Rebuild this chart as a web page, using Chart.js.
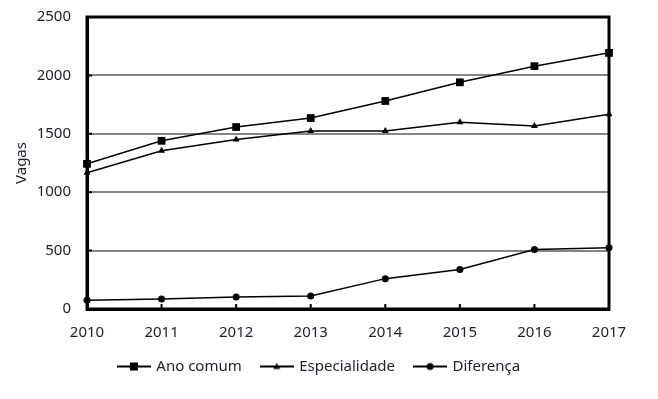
<!DOCTYPE html>
<html>
<head>
<meta charset="utf-8">
<script src="https://cdn.jsdelivr.net/npm/chart.js@4"></script>
<style>
  html, body { margin: 0; padding: 0; background: #fff; }
  #wrap { width: 658px; height: 399px; }
</style>
</head>
<body>
<div id="wrap"><canvas id="chart" width="658" height="399"></canvas></div>
<script>
const years = ['2010', '2011', '2012', '2013', '2014', '2015', '2016', '2017'];
const anoComum = [1243, 1440, 1558, 1635, 1781, 1941, 2079, 2193];
const especialidade = [1166, 1355, 1452, 1523, 1523, 1598, 1566, 1667];
const diferenca = [75, 86, 103, 112, 260, 338, 510, 524];
const yTicks = [0, 500, 1000, 1500, 2000, 2500];

const TEXT = '#1e1e2c';
const FONT = { family: "'Noto Sans', sans-serif", size: 15 };

// icone da legenda: linha com o marcador no meio
function legendIcon(style) {
    const c = document.createElement('canvas');
    c.width = 34; c.height = 10;
    const g = c.getContext('2d');
    g.strokeStyle = '#000'; g.fillStyle = '#000'; g.lineWidth = 2;
    g.beginPath(); g.moveTo(0, 5); g.lineTo(34, 5); g.stroke();
    g.beginPath();
    if (style === 'rect') g.rect(13, 1, 8, 8);
    else if (style === 'triangle') { g.moveTo(17, 1.5); g.lineTo(20.5, 7.5); g.lineTo(13.5, 7.5); g.closePath(); }
    else g.arc(17, 5, 3.5, 0, Math.PI * 2);
    g.fill();
    return c;
}

// moldura e marcas dos ticks para dentro
const framePlugin = {
    id: 'frame',
    beforeDatasetsDraw(chart) {
        const { ctx, chartArea: a, scales } = chart;
        ctx.save();
        ctx.strokeStyle = '#000';
        ctx.lineWidth = 2;
        ctx.beginPath();
        years.forEach((y, i) => {
            if (i === 0 || i === years.length - 1) return;
            const x = scales.x.getPixelForValue(i);
            ctx.moveTo(x, a.bottom); ctx.lineTo(x, a.bottom - 5);
        });
        yTicks.forEach(v => {
            if (v === 0 || v === 2500) return;
            const y = scales.y.getPixelForValue(v);
            ctx.moveTo(a.left, y); ctx.lineTo(a.left + 5, y);
        });
        ctx.stroke();
        ctx.lineWidth = 3;
        ctx.strokeRect(a.left, a.top, a.right - a.left, a.bottom - a.top);
        ctx.restore();
    }
};

const mkSet = (label, data, style, r) => ({
    label, data,
    borderColor: '#000', backgroundColor: '#000',
    borderWidth: 1.5,
    pointStyle: style, pointRadius: r, pointHoverRadius: r,
    pointBorderWidth: 0,
    tension: 0, clip: false,
    legendIcon: legendIcon(style)
});

new Chart(document.getElementById('chart'), {
    type: 'line',
    data: {
        labels: years,
        datasets: [
            mkSet('Ano comum', anoComum, 'rect', 5.5),
            mkSet('Especialidade', especialidade, 'triangle', 4),
            mkSet('Diferença', diferenca, 'circle', 3.5)
        ]
    },
    options: {
        responsive: false,
        animation: false,
        layout: { padding: { top: 17, right: 49, left: 30, bottom: 15 } },
        scales: {
            x: {
                offset: false,
                grid: { display: false, drawTicks: false },
                border: { color: '#000', width: 3 },
                ticks: { color: TEXT, font: FONT, padding: 15, maxRotation: 0 },
                afterFit: s => { s.height = 30; s.paddingLeft = 0; s.paddingRight = 0; }
            },
            y: {
                min: 0, max: 2500,
                grid: {
                    drawTicks: false, lineWidth: 2,
                    color: ctx => (ctx.tick.value === 0 || ctx.tick.value === 2500) ? 'rgba(0,0,0,0)' : '#858585'
                },
                border: { color: '#000', width: 3 },
                afterBuildTicks: s => { s.ticks = yTicks.map(v => ({ value: v })); },
                ticks: { color: TEXT, font: FONT, padding: 16, callback: v => String(v) },
                title: { display: true, text: 'Vagas', color: TEXT, font: FONT, padding: { top: -17, bottom: 0 } },
                afterFit: s => { s.width = 57; s.paddingTop = 0; s.paddingBottom = 0; }
            }
        },
        plugins: {
            legend: {
                position: 'bottom',
                labels: {
                    color: TEXT, font: FONT,
                    usePointStyle: true, pointStyleWidth: 30,
                    padding: 20,
                    generateLabels: chart => chart.data.datasets.map((d, i) => ({
                        text: d.label, pointStyle: d.legendIcon, datasetIndex: i,
                        fillStyle: '#000', strokeStyle: '#000', lineWidth: 0, fontColor: TEXT
                    }))
                }
            },
            tooltip: { enabled: false }
        }
    },
    plugins: [framePlugin]
});
</script>
</body>
</html>
